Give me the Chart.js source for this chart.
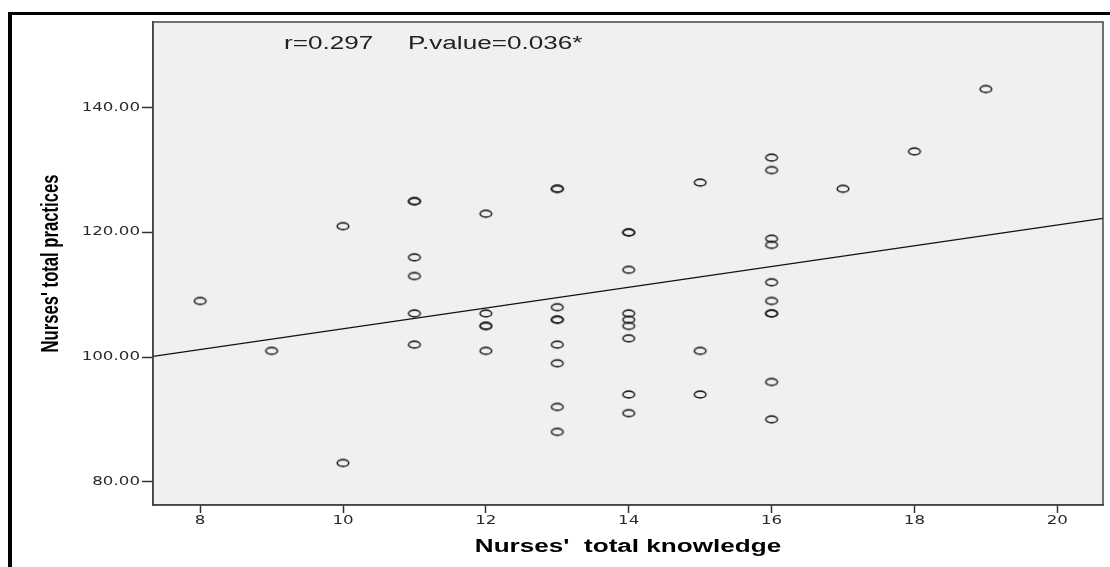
<!DOCTYPE html>
<html>
<head>
<meta charset="utf-8">
<script src="https://cdn.jsdelivr.net/npm/chart.js@4/dist/chart.umd.min.js"></script>
<style>
  html, body { margin: 0; padding: 0; background: #fff; overflow: hidden; }
  #frame { position: absolute; left: 8px; top: 12px; width: 1200px; height: 700px;
           border-top: 3px solid #000; border-left: 4px solid #000; }
  #c { position: absolute; left: 0; top: 0; }
</style>
</head>
<body>
<div id="frame"></div>
<canvas id="c" width="1110" height="567"></canvas>
<script>
// ---- data ----
const knowledge = [8, 9, 10, 10,
  11, 11, 11, 11, 11, 11,
  12, 12, 12, 12, 12,
  13, 13, 13, 13, 13, 13, 13, 13, 13,
  14, 14, 14, 14, 14, 14, 14, 14, 14,
  15, 15, 15,
  16, 16, 16, 16, 16, 16, 16, 16, 16, 16,
  17, 18, 19];
const practices = [109, 101, 121, 83,
  125, 125, 116, 113, 107, 102,
  123, 107, 105, 105, 101,
  127, 127, 108, 106, 106, 102, 99, 92, 88,
  120, 120, 114, 107, 106, 105, 103, 94, 91,
  128, 101, 94,
  132, 130, 119, 118, 112, 109, 107, 107, 96, 90,
  127, 133, 143];
const xTicks = [8, 10, 12, 14, 16, 18, 20];
const yTicks = [80, 100, 120, 140];
const xRange = [7.34, 20.64];
const yRange = [76.26, 153.76];
const fitIntercept = 87.9;
const fitSlope = 1.665;
const statsText = ['r=0.297', 'P.value=0.036*'];
const xTitle = "Nurses'  total knowledge";
const yTitle = "Nurses' total practices";

// ---- build ----
const scatterData = knowledge.map((x, i) => ({ x: x, y: practices[i] }));
const fitData = xRange.map(x => ({ x: x, y: fitIntercept + fitSlope * x }));

// elliptical hollow marker
const marker = document.createElement('canvas');
marker.width = 16; marker.height = 11;
(function () {
  const m = marker.getContext('2d');
  m.lineWidth = 1.6;
  m.strokeStyle = '#262626';
  m.beginPath();
  m.ellipse(8, 5.5, 5.8, 3.4, 0, 0, Math.PI * 2);
  m.stroke();
})();

// the reference picture is stretched horizontally: text is drawn the same way
const STRETCH = 1.45;
const canvas = document.getElementById('c');
const ctx = canvas.getContext('2d');
(function () {
  const orig = ctx.fillText.bind(ctx);
  ctx.fillText = function (text, x, y, maxWidth) {
    const m = ctx.getTransform();
    const X = m.a * x + m.c * y + m.e;
    ctx.save();
    ctx.setTransform(new DOMMatrix([STRETCH, 0, 0, 1, X * (1 - STRETCH), 0]).multiply(m));
    if (maxWidth === undefined) orig(text, x, y); else orig(text, x, y, maxWidth);
    ctx.restore();
  };
})();

// size y title to the reference length
const yTitleFamily = "'Liberation Sans', Arial, sans-serif";
const meas = document.createElement('canvas').getContext('2d');
meas.font = "bold 20px " + yTitleFamily;
const yTitleSize = 20 * 178 / meas.measureText(yTitle).width;

const framePlugin = {
  id: 'framePlugin',
  beforeDraw(chart) {
    const { ctx, chartArea: a } = chart;
    ctx.save();
    ctx.fillStyle = '#f0f0f0';
    ctx.fillRect(a.left, a.top, a.right - a.left, a.bottom - a.top);
    ctx.restore();
  },
  afterDatasetsDraw(chart) {
    const { ctx, chartArea: a } = chart;
    ctx.save();
    ctx.strokeStyle = '#444';
    ctx.lineWidth = 1.5;
    ctx.strokeRect(a.left, a.top, a.right - a.left, a.bottom - a.top);
    ctx.fillStyle = '#222';
    ctx.font = "18px 'Liberation Sans', Arial, sans-serif";
    ctx.textBaseline = 'alphabetic';
    ctx.textAlign = 'left';
    ctx.fillText(statsText[0], 284, 48.5);
    ctx.fillText(statsText[1], 408, 48.5);
    ctx.restore();
  }
};

new Chart(ctx, {
  type: 'scatter',
  data: {
    datasets: [
      {
        label: 'points',
        data: scatterData,
        pointStyle: marker,
        pointRadius: 6,
        pointHoverRadius: 6,
        showLine: false,
        order: 1
      },
      {
        label: 'fit',
        type: 'line',
        data: fitData,
        borderColor: '#111',
        borderWidth: 1.2,
        pointRadius: 0,
        fill: false,
        order: 2
      }
    ]
  },
  options: {
    responsive: false,
    animation: false,
    events: [],
    layout: { padding: { top: 22, right: 2, left: 0, bottom: 0 } },
    plugins: { legend: { display: false }, tooltip: { enabled: false } },
    scales: {
      x: {
        type: 'linear',
        min: xRange[0], max: xRange[1],
        afterBuildTicks(axis) { axis.ticks = xTicks.map(v => ({ value: v })); },
        afterFit(axis) { axis.height = 62; },
        grid: { drawOnChartArea: false, drawTicks: true, tickLength: 8, tickColor: '#333', tickWidth: 1.5 },
        border: { display: true, color: '#444', width: 1.5 },
        ticks: { color: '#2a2a2a', padding: 1, font: { family: 'DejaVu Sans', size: 11.5 },
                 maxRotation: 0, autoSkip: false, callback: v => String(v) },
        title: { display: true, text: xTitle, color: '#000',
                 font: { family: "'Liberation Sans', Arial, sans-serif", size: 18, weight: 'bold' },
                 padding: { top: 0, bottom: 9.5 } }
      },
      y: {
        type: 'linear',
        min: yRange[0], max: yRange[1],
        afterBuildTicks(axis) { axis.ticks = yTicks.map(v => ({ value: v })); },
        afterFit(axis) { axis.width = 153; },
        grid: { drawOnChartArea: false, drawTicks: true, tickLength: 11, tickColor: '#333', tickWidth: 1.5 },
        border: { display: true, color: '#444', width: 1.5 },
        ticks: { color: '#2a2a2a', padding: 2, font: { family: 'DejaVu Sans', size: 11.5 },
                 callback: v => Number(v).toFixed(2) },
        title: { display: true, text: yTitle, color: '#000',
                 font: { family: yTitleFamily, size: yTitleSize, weight: 'bold' },
                 padding: { top: 51 - yTitleSize * 0.6, bottom: 0 } }
      }
    }
  },
  plugins: [framePlugin]
});
</script>
</body>
</html>
